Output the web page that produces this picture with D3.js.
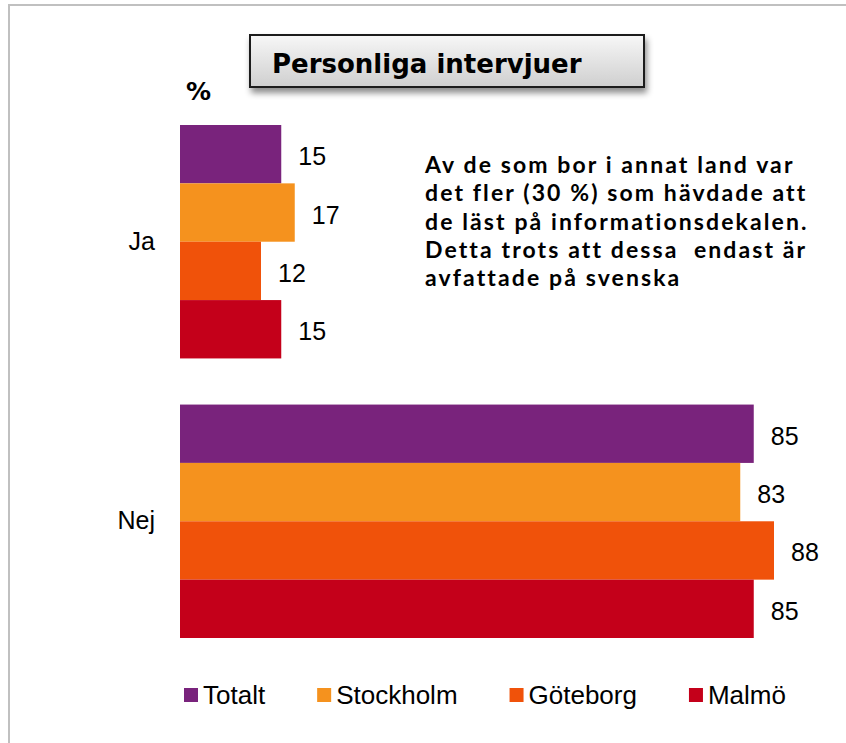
<!DOCTYPE html>
<html>
<head>
<meta charset="utf-8">
<script src="https://cdn.jsdelivr.net/npm/d3@7"></script>
<style>
    body { margin: 0; background: #fff; }
    svg { display: block; }
</style>
</head>
<body>
<script>
// data van de grafiek
var categories = ["Ja", "Nej"];
var series = ["Totalt", "Stockholm", "Göteborg", "Malmö"];
var jaValues = [15, 17, 12, 15];
var nejValues = [85, 83, 88, 85];
var titleText = "Personliga intervjuer";
var unitText = "%";
var noteLines = [
    "Av de som bor i annat land var",
    "det fler (30 %) som hävdade att",
    "de läst på informationsdekalen.",
    "Detta trots att dessa  endast är",
    "avfattade på svenska"
];

var data = categories.map(function (c, i) {
    var vals = i === 0 ? jaValues : nejValues;
    return { category: c, values: series.map(function (s, j) { return { key: s, value: vals[j] }; }) };
});

var width = 846,
    height = 743;

var svg = d3.select("body").append("svg")
    .attr("width", width)
    .attr("height", height);

// kader rond de grafiek (rechts en onder buiten beeld)
svg.append("rect")
    .attr("x", 9)
    .attr("y", 5)
    .attr("width", width + 20)
    .attr("height", height + 20)
    .attr("fill", "none")
    .attr("stroke", "#c0c0c0")
    .attr("stroke-width", 2);

// schalen
var y0 = d3.scaleBand()
    .domain(categories)
    .range([125, 638])
    .paddingInner(0.165);

var y1 = d3.scaleBand()
    .domain(series)
    .range([0, y0.bandwidth()]);

var x = d3.scaleLinear()
    .domain([0, 100])
    .range([180, 855]);

var z = d3.scaleOrdinal()
    .domain(series)
    .range(["#79237c", "#f5921e", "#f0520a", "#c4001a"]);

// balken
var groups = svg.append("g")
    .selectAll("g")
    .data(data)
    .enter().append("g")
    .attr("transform", function (d) {
        return "translate(0," + y0(d.category) + ")";
    });

groups.selectAll("rect")
    .data(function (d) { return d.values; })
    .enter().append("rect")
    .attr("x", x(0))
    .attr("y", function (d) { return y1(d.key); })
    .attr("width", function (d) { return x(d.value) - x(0); })
    .attr("height", y1.bandwidth())
    .attr("fill", function (d) { return z(d.key); });

// waardelabels
groups.selectAll("text")
    .data(function (d) { return d.values; })
    .enter().append("text")
    .attr("x", function (d) { return x(d.value) + 17; })
    .attr("y", function (d) { return y1(d.key) + y1.bandwidth() / 2 + 11; })
    .attr("font-family", "Liberation Sans, Arial, sans-serif")
    .attr("font-size", 25)
    .attr("fill", "#000")
    .text(function (d) { return d.value; });

// categorie-as zonder lijn
var axis = svg.append("g")
    .attr("transform", "translate(" + x(0) + ",0)")
    .call(d3.axisLeft(y0).tickSize(0).tickPadding(25));
axis.select(".domain").remove();
axis.selectAll("text")
    .attr("font-family", "Liberation Sans, Arial, sans-serif")
    .attr("font-size", 25)
    .attr("fill", "#000");

// eenheid
svg.append("text")
    .attr("x", 186)
    .attr("y", 100)
    .attr("font-family", "DejaVu Sans, Verdana, sans-serif")
    .attr("font-weight", "bold")
    .attr("font-size", 25)
    .text(unitText);

// titelkader met verloop en schaduw
var defs = svg.append("defs");
var grad = defs.append("linearGradient")
    .attr("id", "titleGrad")
    .attr("x1", 0).attr("y1", 0).attr("x2", 0).attr("y2", 1);
grad.append("stop").attr("offset", "0%").attr("stop-color", "#f7f7f7");
grad.append("stop").attr("offset", "100%").attr("stop-color", "#cfcfcf");

var shadow = defs.append("filter")
    .attr("id", "shadow")
    .attr("x", "-10%").attr("y", "-30%")
    .attr("width", "130%").attr("height", "180%");
shadow.append("feDropShadow")
    .attr("dx", 2)
    .attr("dy", 5)
    .attr("stdDeviation", 3)
    .attr("flood-color", "#000")
    .attr("flood-opacity", 0.45);

svg.append("rect")
    .attr("x", 250)
    .attr("y", 35)
    .attr("width", 394)
    .attr("height", 52)
    .attr("fill", "url(#titleGrad)")
    .attr("stroke", "#1a1a1a")
    .attr("stroke-width", 2)
    .attr("filter", "url(#shadow)");

svg.append("text")
    .attr("x", 272)
    .attr("y", 73)
    .attr("font-family", "DejaVu Sans, Verdana, sans-serif")
    .attr("font-weight", "bold")
    .attr("font-size", 26)
    .attr("fill", "#000")
    .text(titleText);

// toelichting: Lato 23px, letterafstand passend op de breedste regel
var note = svg.append("g")
    .attr("font-family", "Lato, Open Sans, sans-serif")
    .attr("font-weight", "bold")
    .attr("font-size", 23)
    .attr("fill", "#000");

var noteText = note.selectAll("text")
    .data(noteLines)
    .enter().append("text")
    .attr("x", 425)
    .attr("y", function (d, i) { return 173 + i * 28.3; })
    .style("white-space", "pre")
    .text(function (d) { return d; });

var widestNode = noteText.nodes().reduce(function (a, b) {
    return b.getComputedTextLength() > a.getComputedTextLength() ? b : a;
});
var spacing = (384 - widestNode.getComputedTextLength()) / widestNode.textContent.length;
note.style("letter-spacing", Math.max(0, spacing) + "px");

// legenda
var legend = svg.append("g")
    .attr("font-family", "Liberation Sans, Arial, sans-serif")
    .attr("font-size", 26);

var lx = 184;
series.forEach(function (s) {
    var item = legend.append("g").attr("transform", "translate(" + lx + ",688)");
    item.append("rect")
        .attr("width", 14)
        .attr("height", 14)
        .attr("fill", z(s));
    var t = item.append("text")
        .attr("x", 19)
        .attr("y", 16)
        .attr("fill", "#000")
        .text(s);
    lx += 19 + t.node().getComputedTextLength() + 52;
});
</script>
</body>
</html>
